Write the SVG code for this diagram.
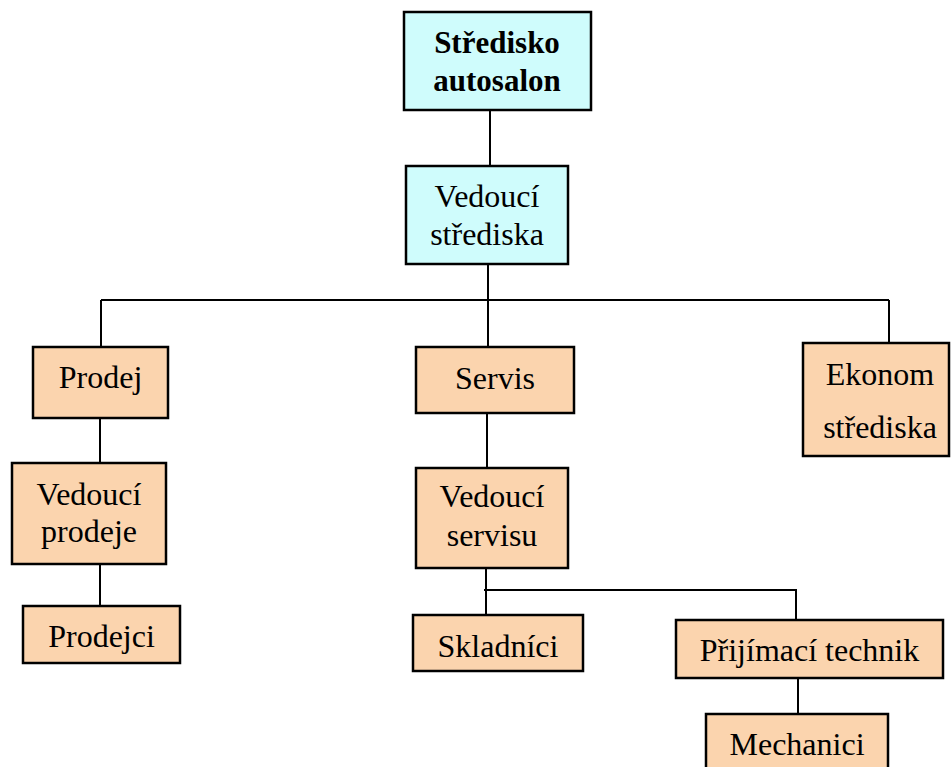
<svg xmlns="http://www.w3.org/2000/svg" width="951" height="767" viewBox="0 0 951 767">
<style>
.box{stroke:#000;stroke-width:2.5}
.cyan{fill:#CFFCFC}
.peach{fill:#FBD4AE}
text{font-family:"Liberation Serif","Times New Roman",serif;font-size:32px;fill:#000;text-anchor:middle}
.b{font-weight:bold;font-size:31px}
#connectors line{stroke:#000;stroke-width:2}
</style>
<rect width="951" height="767" fill="#fff"/>
<g id="connectors">
<line x1="490" y1="110" x2="490" y2="166"/>
<line x1="488" y1="264" x2="488" y2="300"/>
<line x1="101" y1="300" x2="889" y2="300"/>
<line x1="101" y1="300" x2="101" y2="347"/>
<line x1="488" y1="300" x2="488" y2="347"/>
<line x1="889" y1="300" x2="889" y2="343"/>
<line x1="100" y1="418" x2="100" y2="463"/>
<line x1="100" y1="564" x2="100" y2="606"/>
<line x1="487" y1="413" x2="487" y2="468"/>
<line x1="486" y1="568" x2="486" y2="615"/>
<line x1="484" y1="590" x2="797" y2="590"/>
<line x1="796" y1="590" x2="796" y2="620"/>
<line x1="798" y1="678" x2="798" y2="714"/>
</g>
<g id="n-stredisko">
<rect class="box cyan" x="404" y="12" width="187" height="98"/>
<text class="b" x="497" y="53">Středisko</text>
<text class="b" x="497" y="91">autosalon</text>
</g>
<g id="n-vedouci-strediska">
<rect class="box cyan" x="406" y="166" width="162" height="98"/>
<text x="487" y="207">Vedoucí</text>
<text x="487" y="245">střediska</text>
</g>
<g id="n-prodej">
<rect class="box peach" x="33" y="347" width="135" height="71"/>
<text x="100.5" y="388">Prodej</text>
</g>
<g id="n-servis">
<rect class="box peach" x="416" y="347" width="158" height="66"/>
<text x="495" y="389">Servis</text>
</g>
<g id="n-ekonom">
<rect class="box peach" x="803" y="343" width="146" height="113"/>
<text x="880" y="385">Ekonom</text>
<text x="880" y="438">střediska</text>
</g>
<g id="n-vedouci-prodeje">
<rect class="box peach" x="12" y="463" width="154" height="101"/>
<text x="89" y="505">Vedoucí</text>
<text x="89" y="542">prodeje</text>
</g>
<g id="n-prodejci">
<rect class="box peach" x="23" y="606" width="157" height="57"/>
<text x="101.5" y="647">Prodejci</text>
</g>
<g id="n-vedouci-servisu">
<rect class="box peach" x="416" y="468" width="152" height="100"/>
<text x="492" y="507">Vedoucí</text>
<text x="492" y="546">servisu</text>
</g>
<g id="n-skladnici">
<rect class="box peach" x="413" y="615" width="170" height="56"/>
<text x="498" y="657">Skladníci</text>
</g>
<g id="n-prijimaci">
<rect class="box peach" x="676" y="620" width="267" height="58"/>
<text x="809.5" y="661">Přijímací technik</text>
</g>
<g id="n-mechanici">
<rect class="box peach" x="706" y="714" width="182" height="62"/>
<text x="797" y="755">Mechanici</text>
</g>
</svg>
